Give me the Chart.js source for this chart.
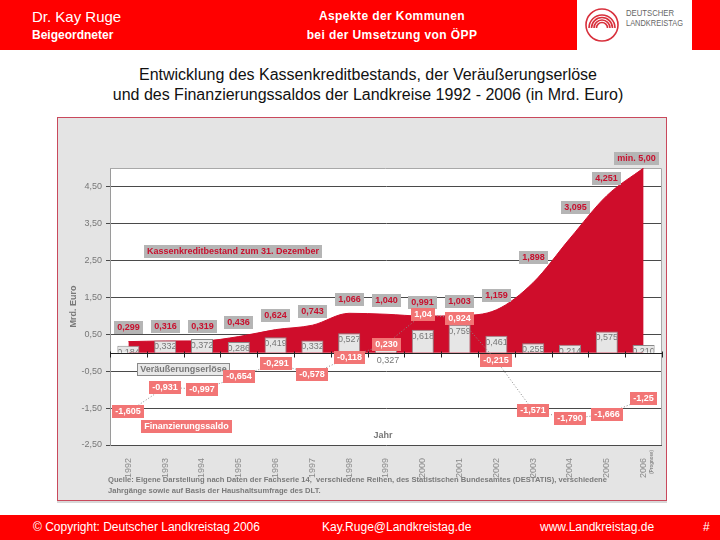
<!DOCTYPE html>
<html lang="de">
<head>
<meta charset="utf-8">
<title>Kassenkredite, Veräußerungserlöse und Finanzierungssaldo der Landkreise</title>
<script src="https://cdn.jsdelivr.net/npm/chart.js@4.4.1/dist/chart.umd.min.js"></script>
<style>
  html, body { margin: 0; padding: 0; }
  body { width: 720px; height: 540px; position: relative; overflow: hidden; background: #fff;
         font-family: 'Liberation Sans', Arial, sans-serif; }
  .band { position: absolute; left: 0; width: 720px; background: #ff0000; color: #fff; }
  .header { top: 0; height: 50px; }
  .footer { top: 515px; height: 25px; font-size: 12px; }
  .abs { position: absolute; white-space: nowrap; }
  .logo { position: absolute; left: 577px; top: 0; width: 115px; height: 50px; background: #fff; }
  .title { position: absolute; left: 8px; top: 65px; width: 720px; text-align: center;
           font-size: 16px; line-height: 20px; color: #111; }
  .panel { position: absolute; left: 57px; top: 117px; width: 608px; height: 382px;
           border: 1px solid #c9495c; background: #e4e4e4; box-shadow: 0 2px 0 #d8d8d8; }
  .panel canvas { position: absolute; left: 0; top: 0; }
  .source { position: absolute; left: 50px; top: 356px; font-size: 7.6px; font-weight: bold;
            line-height: 11px; color: #7a7a7a; white-space: nowrap; }
</style>
</head>
<body>

<div class="band header">
  <div class="abs" style="left:32px; top:8px; font-size:15px;">Dr. Kay Ruge</div>
  <div class="abs" style="left:32px; top:28px; font-size:12px; font-weight:bold;">Beigeordneter</div>
  <div class="abs" style="left:292px; top:9px; width:200px; text-align:center; font-size:12px; font-weight:bold; letter-spacing:0.4px;">Aspekte der Kommunen</div>
  <div class="abs" style="left:292px; top:28px; width:200px; text-align:center; font-size:12px; font-weight:bold; letter-spacing:0.4px;">bei der Umsetzung von ÖPP</div>
  <div class="logo">
    <svg width="115" height="50" viewBox="0 0 115 50">
      <circle cx="25" cy="25" r="16" fill="none" stroke="#d8303c" stroke-width="1.6"/>
      <path d="M12 28 A13 13 0 0 1 38 28" fill="none" stroke="#d8303c" stroke-width="1.6"/>
      <path d="M14.5 28 A10.5 10.5 0 0 1 35.5 28" fill="none" stroke="#d8303c" stroke-width="1.6"/>
      <path d="M17 28 A8 8 0 0 1 33 28" fill="none" stroke="#d8303c" stroke-width="1.6"/>
      <path d="M19.5 28 A5.5 5.5 0 0 1 30.5 28" fill="none" stroke="#d8303c" stroke-width="1.6"/>
      <text x="49" y="16" font-size="8.4" font-family="Liberation Sans, Arial" fill="#666" textLength="48" lengthAdjust="spacingAndGlyphs">DEUTSCHER</text>
      <text x="49" y="25.5" font-size="8.4" font-family="Liberation Sans, Arial" fill="#666" textLength="57" lengthAdjust="spacingAndGlyphs">LANDKREISTAG</text>
    </svg>
  </div>
</div>

<div class="title">Entwicklung des Kassenkreditbestands, der Veräußerungserlöse<br>und des Finanzierungssaldos der Landkreise 1992 - 2006 (in Mrd. Euro)</div>

<div class="panel">
  <canvas id="chart" width="608" height="382"></canvas>
  <div class="source">Quelle: Eigene Darstellung nach Daten der Fachserie 14,&nbsp; verschiedene Reihen, des Statistischen Bundesamtes (DESTATIS), verschiedene<br>Jahrgänge sowie auf Basis der Haushaltsumfrage des DLT.</div>
</div>

<div class="band footer">
  <div class="abs" style="left:33px; top:5px;">© Copyright: Deutscher Landkreistag 2006</div>
  <div class="abs" style="left:322px; top:5px;">Kay.Ruge@Landkreistag.de</div>
  <div class="abs" style="left:540px; top:5px;">www.Landkreistag.de</div>
  <div class="abs" style="left:703px; top:5px;">#</div>
</div>

<script>
const years = ['1992', '1993', '1994', '1995', '1996', '1997', '1998', '1999',
  '2000', '2001', '2002', '2003', '2004', '2005', '2006'];
// Kassenkreditbestand zum 31. Dezember (2006: min. 5,00)
const kassenkredite = [0.299, 0.316, 0.319, 0.436, 0.624, 0.743, 1.066, 1.040,
  0.991, 1.003, 1.159, 1.898, 3.095, 4.251, 5.00];
// Veräußerungserlöse
const erloese = [0.184, 0.332, 0.372, 0.286, 0.419, 0.332, 0.527, 0.327,
  0.618, 0.759, 0.461, 0.255, 0.214, 0.575, 0.210];
// Finanzierungssaldo
const saldo = [-1.605, -0.931, -0.997, -0.654, -0.291, -0.578, -0.118, 0.230,
  1.04, 0.924, -0.215, -1.571, -1.790, -1.666, -1.25];
const saldoDigits = [3, 3, 3, 3, 3, 3, 3, 3, 2, 3, 3, 3, 3, 3, 2];
const yTicks = [-2.5, -1.5, -0.5, 0.5, 1.5, 2.5, 3.5, 4.5];

const FONT = "'Liberation Sans', Arial, sans-serif";
const RED = '#cf0d2b';

const de = (v, d) => v.toFixed(d).replace('.', ',');
const kassenLabels = kassenkredite.map((v, i) => i === kassenkredite.length - 1 ? `min. ${de(v, 2)}` : de(v, 3));
const saldoLabels = saldo.map((v, i) => de(v, saldoDigits[i]));

// label placement tweaks (pixels, relative to the point)
const kassenOffsets = {11: [0, -25], 12: [5, -31], 13: [0, -17], 14: [-7, -10]};
const barLabelBelow = [7];

const drawBox = (ctx, text, cx, cy, fill, color, font, stroke) => {
  ctx.font = font;
  const w = Math.round(ctx.measureText(text).width + 6);
  const h = 13;
  const left = Math.round(cx - w / 2);
  const top = Math.round(cy - h / 2);
  ctx.fillStyle = fill;
  ctx.fillRect(left, top, w, h);
  if (stroke) {
    ctx.strokeStyle = stroke;
    ctx.lineWidth = 1;
    ctx.strokeRect(left + 0.5, top + 0.5, w - 1, h - 1);
  }
  ctx.fillStyle = color;
  ctx.textAlign = 'center';
  ctx.textBaseline = 'middle';
  ctx.fillText(text, left + w / 2, top + h / 2 + 0.5);
};

const decor = {
  id: 'decor',
  beforeDraw(chart) {
    const {ctx, chartArea: a} = chart;
    ctx.save();
    ctx.fillStyle = '#fff';
    ctx.fillRect(a.left, a.top, a.right - a.left, a.bottom - a.top);
    ctx.restore();
  },
  beforeDatasetsDraw(chart) {
    const {ctx, chartArea: a} = chart;
    ctx.save();
    ctx.strokeStyle = '#a8a8a8';
    ctx.lineWidth = 1;
    ctx.beginPath();
    ctx.moveTo(a.left, a.top + 0.5);
    ctx.lineTo(a.right - 0.5, a.top + 0.5);
    ctx.lineTo(a.right - 0.5, a.bottom);
    ctx.stroke();
    ctx.restore();
  },
  afterDatasetDraw(chart, args) {
    const {ctx, chartArea: a, scales: {x, y}} = chart;
    const y0 = y.getPixelForValue(0);
    ctx.save();
    if (args.index === 0) {
      args.meta.data.forEach((pt, i) => {
        const off = kassenOffsets[i] || [0, -14];
        drawBox(ctx, kassenLabels[i], pt.x + off[0], pt.y + off[1], '#b5b5b5', '#c8102e', `bold 9px ${FONT}`);
      });
    }
    if (args.index === 1) {
      ctx.font = `9px ${FONT}`;
      ctx.fillStyle = '#777';
      ctx.textAlign = 'center';
      ctx.textBaseline = 'top';
      args.meta.data.forEach((bar, i) => {
        const txt = de(erloese[i], 3);
        if (barLabelBelow.includes(i)) {
          ctx.fillText(txt, bar.x + 2, y0 + 3);
          return;
        }
        ctx.save();
        ctx.beginPath();
        ctx.rect(bar.x - bar.width / 2 + 1, a.top, bar.width - 2, y0 - a.top);
        ctx.clip();
        ctx.fillText(txt, bar.x, bar.y + 2);
        ctx.restore();
      });
      // zero line with tick marks between years
      const zy = Math.round(y0) + 0.5;
      ctx.strokeStyle = '#222';
      ctx.lineWidth = 1;
      ctx.beginPath();
      ctx.moveTo(a.left, zy);
      ctx.lineTo(a.right, zy);
      for (let i = 0; i <= years.length; i++) {
        const tx = Math.round(x.getPixelForValue(i - 0.5)) + 0.5;
        ctx.moveTo(tx, zy - 2);
        ctx.lineTo(tx, zy + 4);
      }
      ctx.stroke();
    }
    ctx.restore();
  },
  afterDatasetsDraw(chart) {
    const {ctx, scales: {x, y}} = chart;
    ctx.save();
    // text annotations inside the plot
    drawBox(ctx, 'Kassenkreditbestand zum 31. Dezember', x.getPixelForValue(2.84), y.getPixelForValue(2.74),
      '#b5b5b5', '#c8102e', `bold 9px ${FONT}`);
    drawBox(ctx, 'Veräußerungserlöse', x.getPixelForValue(1.51), y.getPixelForValue(-0.45),
      '#e8e8e8', '#777', `bold 9px ${FONT}`, '#8a8a8a');
    drawBox(ctx, 'Finanzierungssaldo', x.getPixelForValue(1.59), y.getPixelForValue(-1.99),
      '#f27575', '#fff', `bold 9px ${FONT}`);
    ctx.font = `bold 9px ${FONT}`;
    ctx.fillStyle = '#777';
    ctx.textAlign = 'center';
    ctx.textBaseline = 'middle';
    ctx.fillText('Jahr', x.getPixelForValue(6.92), y.getPixelForValue(-2.23));

    // saldo value boxes sit on the points
    chart.getDatasetMeta(2).data.forEach((pt, i) => {
      drawBox(ctx, saldoLabels[i], pt.x, pt.y, '#f27575', '#fff', `bold 9px ${FONT}`);
    });

    // small note next to the last year
    const lx = x.getPixelForValue(years.length - 1) + 8;
    ctx.translate(lx, y.bottom + 5);
    ctx.rotate(-Math.PI / 2);
    ctx.font = `bold 4.5px ${FONT}`;
    ctx.fillStyle = '#888';
    ctx.textAlign = 'right';
    ctx.fillText('(Prognose)', 0, 0);
    ctx.restore();
  }
};

Chart.defaults.font.family = FONT;

new Chart(document.getElementById('chart'), {
  type: 'bar',
  data: {
    labels: years,
    datasets: [
      {
        type: 'line',
        label: 'Kassenkreditbestand zum 31. Dezember',
        data: kassenkredite,
        fill: 'origin',
        backgroundColor: RED,
        borderColor: RED,
        borderWidth: 1,
        pointRadius: 0,
        cubicInterpolationMode: 'monotone',
        order: 3,
      },
      {
        type: 'bar',
        label: 'Veräußerungserlöse',
        data: erloese,
        backgroundColor: '#e6e6e6',
        borderColor: '#8a8a8a',
        borderWidth: 1,
        barPercentage: 0.6,
        categoryPercentage: 1,
        order: 2,
      },
      {
        type: 'line',
        label: 'Finanzierungssaldo',
        data: saldo,
        fill: false,
        borderColor: '#8a8a8a',
        borderWidth: 1,
        borderDash: [1, 2],
        pointRadius: 0,
        order: 1,
      },
    ],
  },
  options: {
    responsive: false,
    animation: false,
    layout: {padding: {top: 50, right: 4, left: 0, bottom: 0}},
    plugins: {
      legend: {display: false},
      tooltip: {enabled: false},
    },
    scales: {
      x: {
        offset: true,
        grid: {display: false},
        border: {display: false},
        ticks: {
          color: '#8a8a8a',
          font: {size: 9},
          minRotation: 90,
          maxRotation: 90,
          autoSkip: false,
          padding: 5,
        },
        afterFit: (scale) => { scale.height = 55; },
      },
      y: {
        min: -2.5,
        max: 5,
        afterBuildTicks: (scale) => { scale.ticks = yTicks.map((v) => ({value: v})); },
        grid: {color: '#4a4a4a', tickLength: 4},
        border: {color: '#9a9a9a'},
        ticks: {
          color: '#777',
          font: {size: 9},
          padding: 4,
          callback: (v) => de(v, 2),
        },
        title: {
          display: true,
          text: 'Mrd. Euro',
          color: '#777',
          font: {size: 9, weight: 'bold'},
          padding: {top: 10, bottom: 0},
        },
        afterFit: (scale) => { scale.width = 52; },
      },
    },
  },
  plugins: [decor],
});
</script>
</body>
</html>
